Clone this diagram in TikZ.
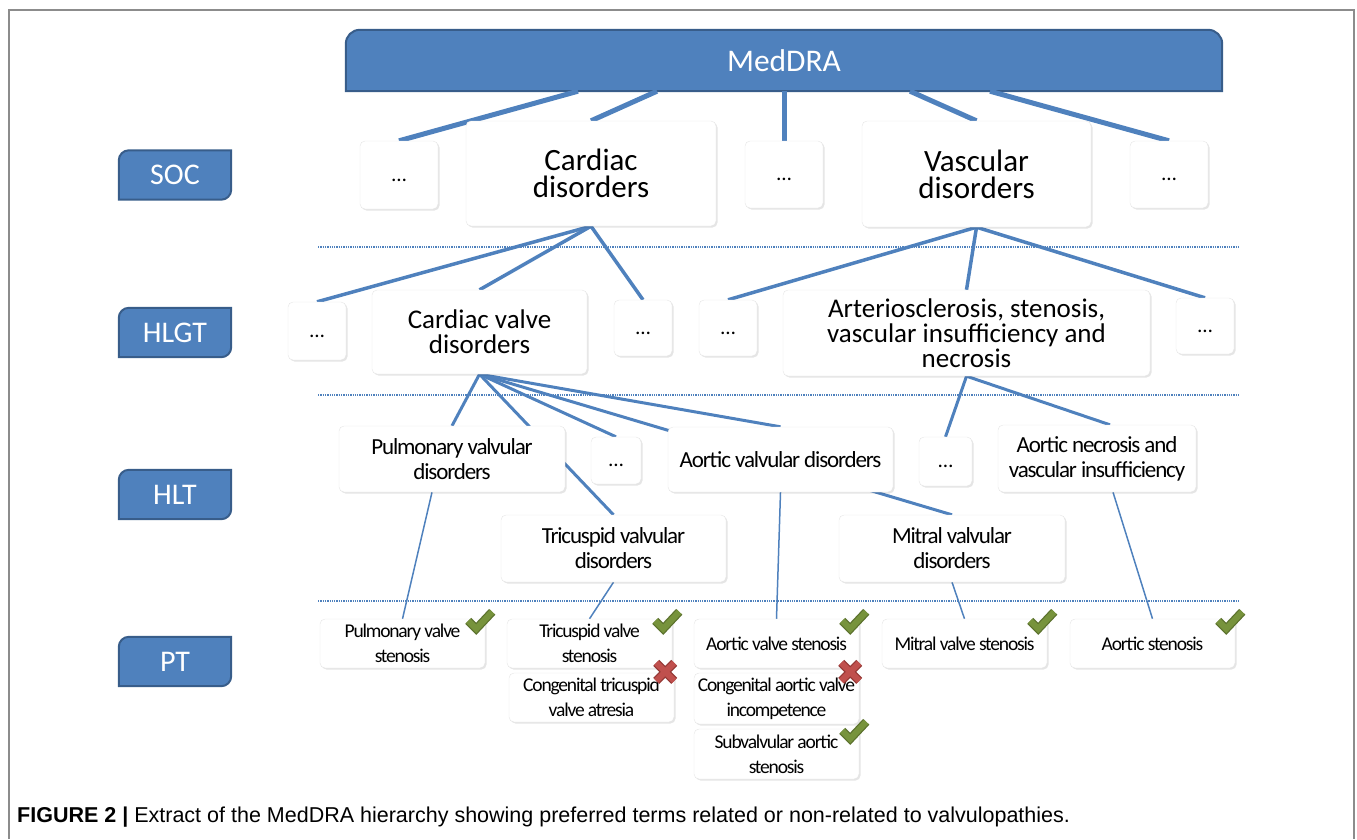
\documentclass[tikz,border=0pt]{standalone}
\usepackage{fontspec}
\setmainfont{Carlito}
\newfontfamily\capfont{Liberation Sans}
\usetikzlibrary{calc,backgrounds,shadows}

\definecolor{medblue}{RGB}{79,129,189}
\definecolor{meddark}{RGB}{56,93,138}
\definecolor{okgreen}{RGB}{119,147,60}
\definecolor{okdark}{RGB}{92,114,46}
\definecolor{nored}{RGB}{192,80,77}
\definecolor{nodark}{RGB}{148,56,53}

\tikzset{
  termbox/.style={draw=black!10, fill=white, rounded corners=5, align=center, inner sep=0pt,
    drop shadow={shadow xshift=1.5pt, shadow yshift=-1.5pt, opacity=0.10, fill=black}},
  dotsbox/.style={termbox, font=\fontsize{21}{21}\selectfont, text height=12pt, text depth=0pt},
  socterm/.style={termbox, font=\fontsize{31}{27}\selectfont},
  hlgtterm/.style={termbox, font=\fontsize{27}{25}\selectfont},
  hltterm/.style={termbox, font=\fontsize{23}{25}\selectfont\addfontfeature{LetterSpace=-5}},
  ptterm/.style={termbox, font=\fontsize{19.5}{25}\selectfont\addfontfeature{LetterSpace=-6},
    minimum width=165, minimum height=49},
  lvltext/.style={text=white, font=\fontsize{30}{30}\selectfont, minimum width=112, minimum height=49, inner sep=0pt},
  lvlshape/.style={fill=medblue, draw=meddark, line width=2},
  link1/.style={draw=medblue, line width=5},
  link2/.style={draw=medblue, line width=3.5},
  link3/.style={draw=medblue, line width=3},
  link4/.style={draw=medblue, line width=1.5},
  sepline/.style={draw=medblue, line width=1.3, dash pattern=on 1.3pt off 1pt},
  okmark/.style={draw=okgreen, line width=6, preaction={draw=okdark, line width=8.5}},
  nomark/.style={draw=nored, line width=6, preaction={draw=nodark, line width=8.5}}
}

\begin{document}
\begin{tikzpicture}[x=1pt,y=-1pt]
\useasboundingbox (0,0) rectangle (1357,839);
\draw[black!45, line width=2] (9,839) -- (9,10) -- (1354,10) -- (1354,839);

\node[lvltext, font=\fontsize{31.5}{31.5}\selectfont, minimum width=876, minimum height=61] (meddra) at (784,60.5) {MedDRA};
\node[lvltext] (soc) at (175,175) {SOC};
\node[lvltext] (hlgt) at (175,332.5) {HLGT};
\node[lvltext] (hlt) at (175,494.5) {HLT};
\node[lvltext] (pt) at (175,661.5) {PT};

\node[dotsbox, minimum width=78, minimum height=68] (soc1) at (399,175) {…};
\node[socterm, minimum width=250, minimum height=105] (cardiac) at (591,173.5) {Cardiac\\disorders};
\node[dotsbox, minimum width=78, minimum height=67] (soc3) at (784,174.5) {…};
\node[socterm, minimum width=229, minimum height=106] (vascular) at (976.5,174) {Vascular\\disorders};
\node[dotsbox, minimum width=78, minimum height=67] (soc5) at (1169,174.5) {…};

\node[dotsbox, minimum width=58, minimum height=58] (hlgt1) at (317,331) {…};
\node[hlgtterm, minimum width=215, minimum height=84] (cvd) at (479.5,332) {Cardiac valve\\disorders};
\node[dotsbox, minimum width=58, minimum height=56] (hlgt3) at (643,328) {…};
\node[dotsbox, minimum width=58, minimum height=56] (hlgt4) at (728,328) {…};
\node[hlgtterm, minimum width=367, minimum height=86] (arterio) at (966.5,333) {Arteriosclerosis, stenosis,\\vascular insufficiency and\\necrosis};
\node[dotsbox, minimum width=58, minimum height=56] (hlgt6) at (1205,326) {…};

\node[hltterm, minimum width=226, minimum height=66] (pvd) at (452,459) {Pulmonary valvular\\disorders};
\node[dotsbox, minimum width=50, minimum height=47] (hlt2) at (616,460.5) {…};
\node[hltterm, minimum width=225, minimum height=65] (avd) at (780.5,459.5) {Aortic valvular disorders};
\node[dotsbox, minimum width=53, minimum height=49] (hlt4) at (945.5,461.5) {…};
\node[hltterm, minimum width=198, minimum height=67] (anvi) at (1097,458.5) {Aortic necrosis and\\vascular insufficiency};
\node[hltterm, minimum width=225, minimum height=67] (tvd) at (613.5,548.5) {Tricuspid valvular\\disorders};
\node[hltterm, minimum width=226, minimum height=67] (mvd) at (952,548.5) {Mitral valvular\\disorders};

\node[ptterm] (pvs) at (402.5,643.5) {Pulmonary valve\\stenosis};
\node[ptterm] (tvs) at (589.5,643.5) {Tricuspid valve\\stenosis};
\node[ptterm] (ctva) at (591.5,697.5) {Congenital tricuspid\\valve atresia};
\node[ptterm] (avs) at (776.5,643.5) {Aortic valve stenosis};
\node[ptterm, minimum height=51] (cavi) at (776.5,698.5) {Congenital aortic valve\\incompetence};
\node[ptterm, minimum height=50] (sas) at (776.5,754) {Subvalvular aortic\\stenosis};
\node[ptterm] (mvs) at (964.5,643.5) {Mitral valve stenosis};
\node[ptterm] (aos) at (1152.5,643.5) {Aortic stenosis};

\begin{scope}[on background layer]
\filldraw[lvlshape] (meddra.south west) -- ($(meddra.north west)+(0,14)$) arc[start angle=180,end angle=270,radius=14]
  -- ($(meddra.north east)+(-14,0)$) arc[start angle=270,end angle=360,radius=14] -- (meddra.south east) -- cycle;
\foreach \n in {soc,hlgt,hlt,pt}
  \filldraw[lvlshape] (\n.south west) -- ($(\n.north west)+(0,10)$) arc[start angle=180,end angle=270,radius=10]
    -- (\n.north east) -- ($(\n.south east)+(0,-10)$) arc[start angle=0,end angle=90,radius=10] -- cycle;

\foreach \s/\t in {-206/soc1,-127/cardiac,0/soc3,126/vascular,206/soc5}
  \draw[link1] ([xshift=\s]meddra.south) -- (\t.north);

\foreach \t in {hlgt1,cvd,hlgt3}
  \draw[link2] (cardiac.south) -- (\t.north);
\foreach \t in {hlgt4,arterio,hlgt6}
  \draw[link2] (vascular.south) -- (\t.north);

\foreach \t in {pvd,tvd,hlt2,mvd,avd}
  \draw[link3] (cvd.south) -- (\t.north);
\draw[link3] (arterio.south) -- (hlt4.north);
\draw[link3] (arterio.south) -- ([xshift=13]anvi.north);

\draw[link4] ([xshift=-20]pvd.south) -- (pvs.north);
\draw[link4] (tvd.south) -- (tvs.north);
\draw[link4] (avd.south) -- (avs.north);
\draw[link4] (mvd.south) -- (mvs.north);
\draw[link4] ([xshift=16]anvi.south) -- (aos.north);

\foreach \y in {247,395,601}
  \draw[sepline] (318,\y) -- (1240,\y);
\end{scope}

\foreach \b in {pvs,tvs,avs,mvs,aos,sas}
  \draw[okmark] ($(\b.north east)+(-17,2)$) -- ++(8,8) -- ++(16,-17);
\foreach \b in {ctva,cavi}
  \draw[nomark] ($(\b.north east)+(-18,-10)$) -- ++(18,18) ($(\b.north east)+(0,-10)$) -- ++(-18,18);

\node[anchor=base west, inner sep=0pt, font=\capfont\fontsize{21.5}{22}\selectfont] (caption) at (17,822)
  {\textbf{FIGURE 2 |} Extract of the MedDRA hierarchy showing preferred terms related or non-related to valvulopathies.};
\end{tikzpicture}
\end{document}
